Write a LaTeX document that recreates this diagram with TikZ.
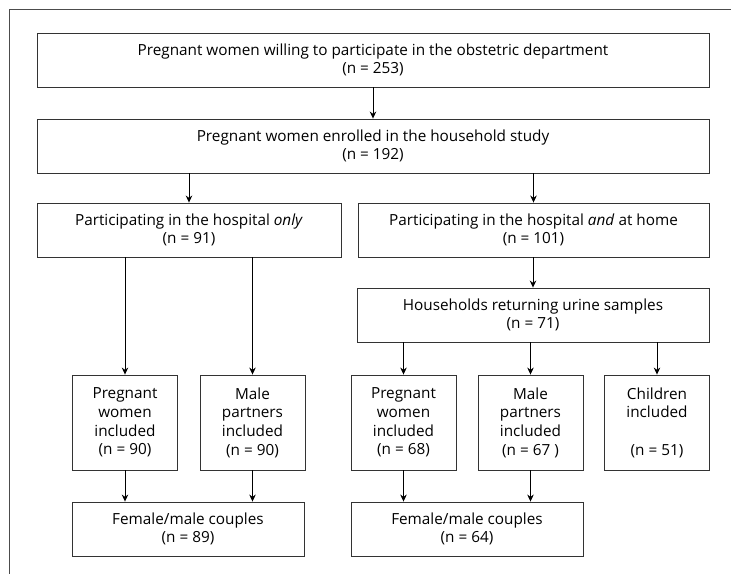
\documentclass[tikz,border=0pt]{standalone}
\usepackage{fontspec}
\setmainfont{Open Sans}
\usetikzlibrary{arrows.meta}
\tikzset{
  box/.style={draw=black!80,line width=0.9pt,align=center,inner sep=0pt,
    font=\fontsize{15.3}{18.7}\selectfont},
  widebox/.style={box,minimum height=54pt},
  smallbox/.style={box,minimum width=105pt,minimum height=95pt},
}
\begin{document}
\begin{tikzpicture}[>={Stealth[length=7pt,width=6.5pt]},x=1pt,y=-1pt,line width=0.8pt]
        \useasboundingbox (0,0) rectangle (731,574);
        \draw[black!70,line width=0.9pt] (731,9) -- (9,9) -- (9,574);
        % top
        \node[widebox,minimum width=672pt] (enrol) at (373,60) {Pregnant women willing to participate in the obstetric department\\(n = 253)};
        \node[widebox,minimum width=672pt] (study) at (373,146) {Pregnant women enrolled in the household study\\(n = 192)};
        \node[widebox,minimum width=304pt] (hosp) at (189,230) {Participating in the hospital \textit{only}\\(n = 91)};
        \node[widebox,minimum width=351pt] (home) at (533.5,230) {Participating in the hospital \textit{and} at home\\(n = 101)};
        \node[widebox,minimum width=352pt] (urine) at (533,315) {Households returning urine samples\\(n = 71)};
        % hospital only
        \node[smallbox] (womenA) at (125,422.5) {Pregnant\\women\\included\\(n = 90)};
        \node[smallbox] (menA) at (252.5,422.5) {Male\\partners\\included\\(n = 90)};
        \node[widebox,minimum width=232pt] (coupA) at (188,529) {Female/male couples\\(n = 89)};
        % hospital and home
        \node[smallbox] (womenB) at (403.5,422.5) {Pregnant\\women\\included\\(n = 68)};
        \node[smallbox] (menB) at (530.5,422.5) {Male\\partners\\included\\(n = 67 )};
        \node[smallbox] (kids) at (657,422.5) {Children\\included\\\\(n = 51)};
        \node[widebox,minimum width=232pt] (coupB) at (467,529) {Female/male couples\\(n = 64)};
        % arrows
        \draw[->] (enrol) -- (study);
        \draw[->] (hosp |- study.south) -- (hosp);
        \draw[->] (home |- study.south) -- (home);
        \draw[->] (urine |- home.south) -- (urine);
        \draw[->] (womenA |- hosp.south) -- (womenA);
        \draw[->] (menA |- hosp.south) -- (menA);
        \draw[->] (womenB |- urine.south) -- (womenB);
        \draw[->] (menB |- urine.south) -- (menB);
        \draw[->] (kids |- urine.south) -- (kids);
        \draw[->] (womenA) -- (womenA |- coupA.north);
        \draw[->] (menA) -- (menA |- coupA.north);
        \draw[->] (womenB) -- (womenB |- coupB.north);
        \draw[->] (menB) -- (menB |- coupB.north);
    \end{tikzpicture}
\end{document}
